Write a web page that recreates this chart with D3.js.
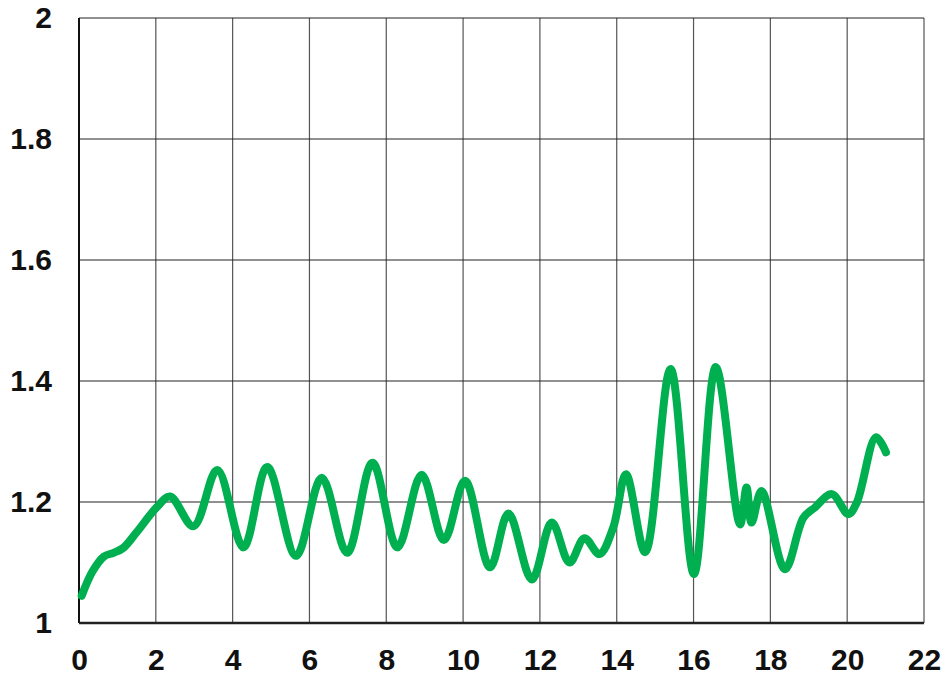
<!DOCTYPE html>
<html>
<head>
<meta charset="utf-8">
<title>line chart</title>
<script src="https://d3js.org/d3.v7.min.js"></script>
<style>
  body { margin: 0; background: #fff; }
  .tick text { font-family: "Liberation Sans", Arial, sans-serif; font-weight: bold; font-size: 30px; fill: #111; }
</style>
</head>
<body>
<div id="chart"></div>
<script>
// values
var xs = [0.07, 0.35, 0.65, 0.9, 1.15, 1.5, 2.02, 2.37, 2.98, 3.6, 4.28, 4.9, 5.65, 6.32, 6.98,
          7.64, 8.29, 8.92, 9.5, 10.05, 10.7, 11.18, 11.79, 12.31, 12.77, 13.16, 13.55,
          13.91, 14.24, 14.74, 15.4, 16.01, 16.58, 17.21, 17.38, 17.51, 17.77, 18.38,
          18.86, 19.16, 19.6, 20.03, 20.25, 20.75, 21.01];
var ys = [1.045, 1.085, 1.11, 1.116, 1.124, 1.15, 1.191, 1.209, 1.16, 1.253, 1.125, 1.258, 1.111, 1.24, 1.116,
          1.265, 1.125, 1.245, 1.137, 1.235, 1.092, 1.181, 1.072, 1.166, 1.1, 1.14, 1.114,
          1.158, 1.246, 1.117, 1.42, 1.081, 1.423, 1.163, 1.224, 1.166, 1.218, 1.089,
          1.174, 1.191, 1.213, 1.18, 1.199, 1.307, 1.282];
var xTicks = [0, 2, 4, 6, 8, 10, 12, 14, 16, 18, 20, 22];
var yTicks = [1, 1.2, 1.4, 1.6, 1.8, 2];

var W = 948, H = 678;
var m = {left: 79, right: 24, top: 18, bottom: 55};

var svg = d3.select("#chart").append("svg")
    .attr("width", W).attr("height", H);

var x = d3.scaleLinear().domain([0, 22]).range([m.left, W - m.right]);
var y = d3.scaleLinear().domain([1, 2]).range([H - m.bottom, m.top]);

// grid
svg.append("g").selectAll("line").data(xTicks).enter().append("line")
    .attr("x1", d => x(d)).attr("x2", d => x(d))
    .attr("y1", y(1)).attr("y2", y(2))
    .attr("stroke", "#555").attr("stroke-width", 1.2);
svg.append("g").selectAll("line").data(yTicks).enter().append("line")
    .attr("x1", x(0)).attr("x2", x(22))
    .attr("y1", d => y(d)).attr("y2", d => y(d))
    .attr("stroke", "#222").attr("stroke-width", 1.2);

// frame edges a bit heavier
svg.append("line").attr("x1", x(0)).attr("x2", x(0)).attr("y1", y(1)).attr("y2", y(2))
    .attr("stroke", "#111").attr("stroke-width", 2);
svg.append("line").attr("x1", x(0)).attr("x2", x(22)).attr("y1", y(1)).attr("y2", y(1))
    .attr("stroke", "#222").attr("stroke-width", 2.5);

// axes (labels only)
var xAxis = d3.axisBottom(x).tickValues(xTicks).tickSize(0).tickPadding(26)
    .tickFormat(d3.format("d"));
svg.append("g").attr("transform", "translate(0," + y(1) + ")").call(xAxis)
    .call(g => g.select(".domain").remove());

var yAxis = d3.axisLeft(y).tickValues(yTicks).tickSize(0).tickPadding(27)
    .tickFormat(d => String(+d.toFixed(1)));
svg.append("g").attr("transform", "translate(" + x(0) + ",0)").call(yAxis)
    .call(g => g.select(".domain").remove());

// series
var pts = xs.map((v, i) => [v, ys[i]]);
var line = d3.line()
    .x(d => x(d[0])).y(d => y(d[1]))
    .curve(d3.curveCatmullRom.alpha(0.5));

svg.append("path").datum(pts)
    .attr("d", line)
    .attr("fill", "none")
    .attr("stroke", "#00b050")
    .attr("stroke-width", 8)
    .attr("stroke-linecap", "round")
    .attr("stroke-linejoin", "round");
</script>
</body>
</html>
